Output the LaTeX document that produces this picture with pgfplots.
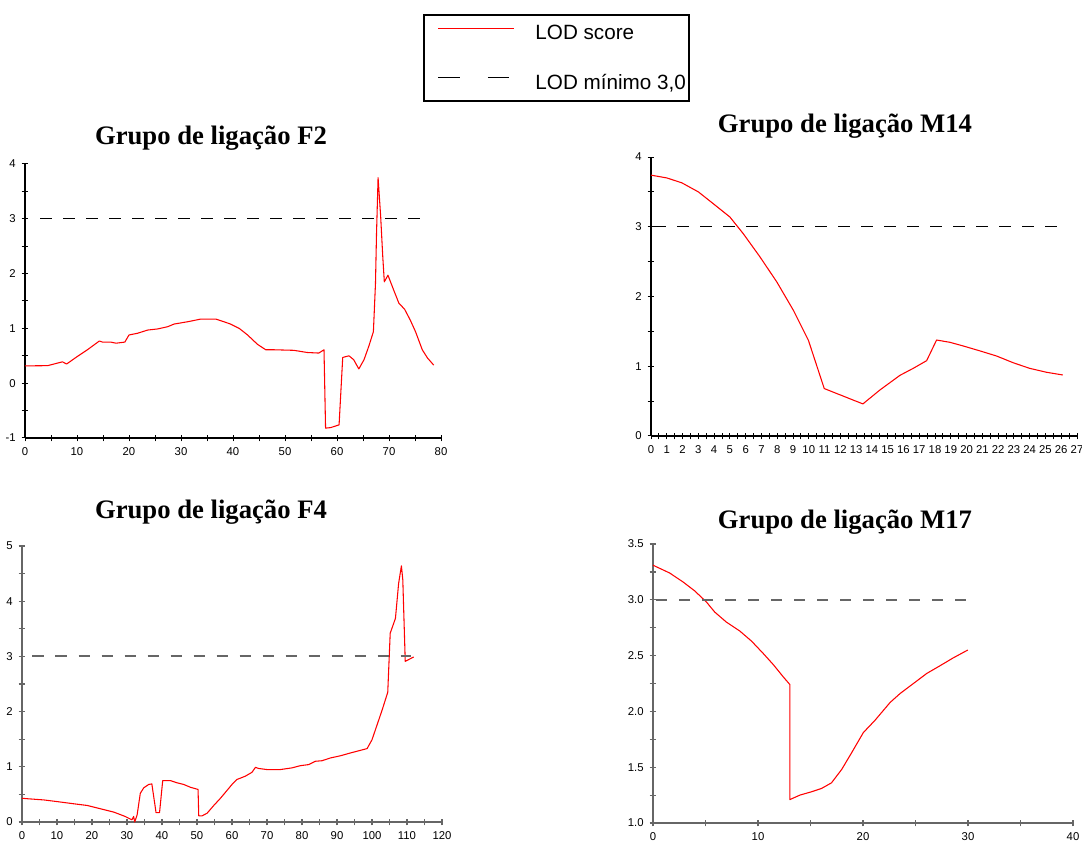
\documentclass[border=0pt]{standalone}
\usepackage{fontspec}
\setmainfont{Liberation Sans}
\newfontfamily\titlefont{Liberation Serif}
\usepackage{pgfplots}
\pgfplotsset{compat=1.18}

\pgfplotsset{
  lodaxis/.style={
    scale only axis,
    axis lines=left,
    axis line style={-, black, line width=0.9pt},
    tick align=center,
    major tick length=5pt,
    minor tick length=5pt,
    tick style={black, line width=0.75pt},
    tick label style={font=\fontsize{8.5}{10}\selectfont},
    xticklabel style={yshift=-1.5pt},
    yticklabel style={xshift=-1pt},
    /pgf/number format/assume math mode=true,
    clip=false,
  },
  grayaxis/.style={
    axis line style={-, black!60, line width=1.1pt},
    tick style={black!60, line width=0.9pt},
  },
  lodline/.style={red, line width=0.8pt, line join=round},
  minline/.style={black, line width=0.8pt, dash pattern=on 9pt off 8.25pt},
  minlinegray/.style={black!60, line width=1.5pt, dash pattern=on 8.5pt off 8.75pt},
}

\begin{document}
\begin{tikzpicture}
\path[use as bounding box] (0,0) rectangle (811.5pt,630pt);

% ---------- F2 ----------
\begin{axis}[lodaxis, at={(18.75pt,301.5pt)}, anchor=south west,
  width=312pt, height=205.5pt,
  xmin=0, xmax=80, ymin=-1, ymax=4,
  xtick={0,10,...,80}, minor xtick={5,15,...,75},
  ytick={-1,0,...,4}, minor ytick={-0.5,0.5,1.5,2.5,3.5},
  legend cell align=left,
  legend style={at={(0.957,1.547)}, anchor=north west,
    draw=black, line width=1.5pt, fill=white,
    font=\fontsize{15.5}{18}\selectfont,
    inner xsep=2.5pt, inner ysep=7.5pt, row sep=24.5pt,
    nodes={inner sep=0pt},
    /tikz/every odd column/.append style={column sep=15pt}},
]
\addplot[lodline, forget plot] coordinates {
(0,0.316) (4.35,0.32) (7.2,0.39) (8,0.35) (10.1,0.49) (12,0.61) (14.3,0.77)
(14.9,0.75) (16.5,0.75) (17.5,0.73) (19.2,0.75) (20,0.88) (21.6,0.91) (23.6,0.97)
(25.5,0.99) (27.4,1.03) (28.7,1.08) (31.2,1.12) (33.8,1.17) (36.7,1.17) (38.3,1.12)
(39.5,1.08) (41.2,1.00) (42.8,0.88) (44.7,0.71) (46.3,0.61) (47.9,0.61) (51.7,0.60)
(53,0.58) (54.3,0.56) (56.5,0.55) (57.5,0.61) (57.8,-0.82) (58.8,-0.81) (60.4,-0.76)
(61.1,0.47) (62.3,0.50) (63.2,0.43) (64.2,0.26) (65.2,0.43) (66.1,0.67) (67,0.94)
(67.4,1.82) (67.6,2.73) (67.9,3.75) (68.4,3.04) (68.8,2.31) (69.1,1.85) (69.8,1.97)
(70.9,1.70) (71.9,1.46) (73,1.35) (74.1,1.15) (75.1,0.94) (76.4,0.61) (77.4,0.46)
(78.6,0.33)};
\addplot[minline, forget plot] coordinates {(2.9,3) (77.5,3)};
\addlegendimage{legend image code/.code={\path (0pt,0pt); \draw[red, line width=0.9pt] (7.5pt,0.38em) -- (64.5pt,0.38em);}}
\addlegendentry{LOD score}
\addlegendimage{legend image code/.code={\path (0pt,0pt); \draw[black, line width=0.9pt, dash pattern=on 16pt off 21pt] (7.5pt,0.38em) -- (60.5pt,0.38em); \path (64.5pt,0pt);}}
\addlegendentry{LOD mínimo 3,0}
\end{axis}

% ---------- M14 ----------
\begin{axis}[lodaxis, at={(488.25pt,303pt)}, anchor=south west,
  width=319.5pt, height=209.25pt,
  xmin=0, xmax=27, ymin=0, ymax=4,
  xtick={0,1,...,27}, minor xtick={0.5,1.5,...,26.5},
  ytick={0,1,...,4}, minor ytick={0.5,1.5,2.5,3.5},
]
\addplot[lodline] coordinates {
(0,3.74) (1,3.70) (1.95,3.63) (3.0,3.50) (3.95,3.33) (5.0,3.14) (5.85,2.90)
(6.9,2.57) (7.97,2.21) (9.03,1.80) (9.98,1.37) (10.98,0.68) (13.43,0.46)
(14.51,0.66) (15.78,0.87) (16.62,0.97) (17.47,1.08) (18.1,1.376) (18.95,1.343)
(19.8,1.29) (20.85,1.22) (21.9,1.147) (22.96,1.05) (24.0,0.97) (25.08,0.913)
(26.1,0.875)};
\addplot[minline] coordinates {(0.2,3) (25.9,3)};
\end{axis}

% ---------- F4 ----------
\begin{axis}[lodaxis, grayaxis, at={(16.5pt,13.5pt)}, anchor=south west,
  width=315pt, height=207pt,
  xmin=0, xmax=120, ymin=0, ymax=5,
  xtick={0,10,...,120}, minor xtick={5,15,...,115},
  ytick={0,1,...,5}, minor ytick={0.5,1.5,2.5,3.5,4.5},
]
\addplot[lodline] coordinates {
(0,0.43) (1.9,0.42) (6.2,0.40) (10,0.37) (14.8,0.33) (18.6,0.30) (22.4,0.24)
(26.2,0.18) (29.5,0.10) (31.4,0.04) (31.9,0.10) (32.2,0.0) (32.9,0.13) (33.8,0.52)
(34.8,0.62) (36.2,0.68) (37.1,0.69) (38.3,0.17) (39.3,0.17) (40.2,0.75) (42.4,0.75)
(44.3,0.71) (46.2,0.68) (48.1,0.63) (50.3,0.59) (50.5,0.11) (51.4,0.11) (52.9,0.16)
(54.8,0.30) (56.7,0.43) (60,0.68) (61.4,0.77) (63.8,0.83) (65.7,0.90) (66.7,0.99)
(67.6,0.97) (70,0.95) (73.8,0.95) (77.1,0.98) (79.5,1.02) (81.9,1.04) (83.8,1.10)
(85.7,1.11) (88.1,1.16) (91,1.20) (93.8,1.25) (96.2,1.29) (98.6,1.33) (100,1.49)
(102.9,2.03) (104.5,2.35) (105.2,3.42) (106.7,3.69) (107.6,4.32) (108.4,4.64)
(108.8,4.39) (109.2,3.54) (109.5,2.91) (111.9,2.99)};
\addplot[minlinegray] coordinates {(3,3) (111,3)};
\end{axis}

% ---------- M17 ----------
\begin{axis}[lodaxis, grayaxis, at={(489.75pt,12.75pt)}, anchor=south west,
  width=315pt, height=209.25pt,
  xmin=0, xmax=40, ymin=1, ymax=3.5,
  xtick={0,10,...,40}, minor xtick={5,15,25,35},
  ytick={1,1.5,...,3.5}, minor ytick={1.25,1.75,...,3.25},
  yticklabel style={/pgf/number format/.cd, fixed, fixed zerofill, precision=1},
]
\addplot[lodline] coordinates {
(0,3.31) (1.59,3.24) (2.86,3.16) (3.97,3.08) (5.09,2.98) (5.88,2.89) (6.99,2.80)
(8.27,2.72) (9.38,2.63) (10.49,2.52) (11.45,2.42) (12.4,2.31) (13.04,2.24)
(13.04,1.21) (13.99,1.25) (15.1,1.28) (16.06,1.31) (17.0,1.36) (17.97,1.48)
(18.92,1.63) (20.03,1.81) (21.14,1.92) (22.58,2.08) (23.53,2.16) (24.8,2.25)
(26.07,2.34) (27.35,2.41) (28.6,2.48) (29.98,2.55)};
\addplot[minlinegray] coordinates {(0.3,3) (30,3)};
\end{axis}

% ---------- titles ----------
\begin{scope}[every node/.style={anchor=base, font=\titlefont\bfseries\fontsize{20}{24}\selectfont}]
\node at (158.25pt,521.25pt) {Grupo de ligação F2};
\node at (633.75pt,530.25pt) {Grupo de ligação M14};
\node at (158.25pt,240.75pt) {Grupo de ligação F4};
\node at (633.75pt,233.25pt) {Grupo de ligação M17};
\end{scope}
\end{tikzpicture}
\end{document}
